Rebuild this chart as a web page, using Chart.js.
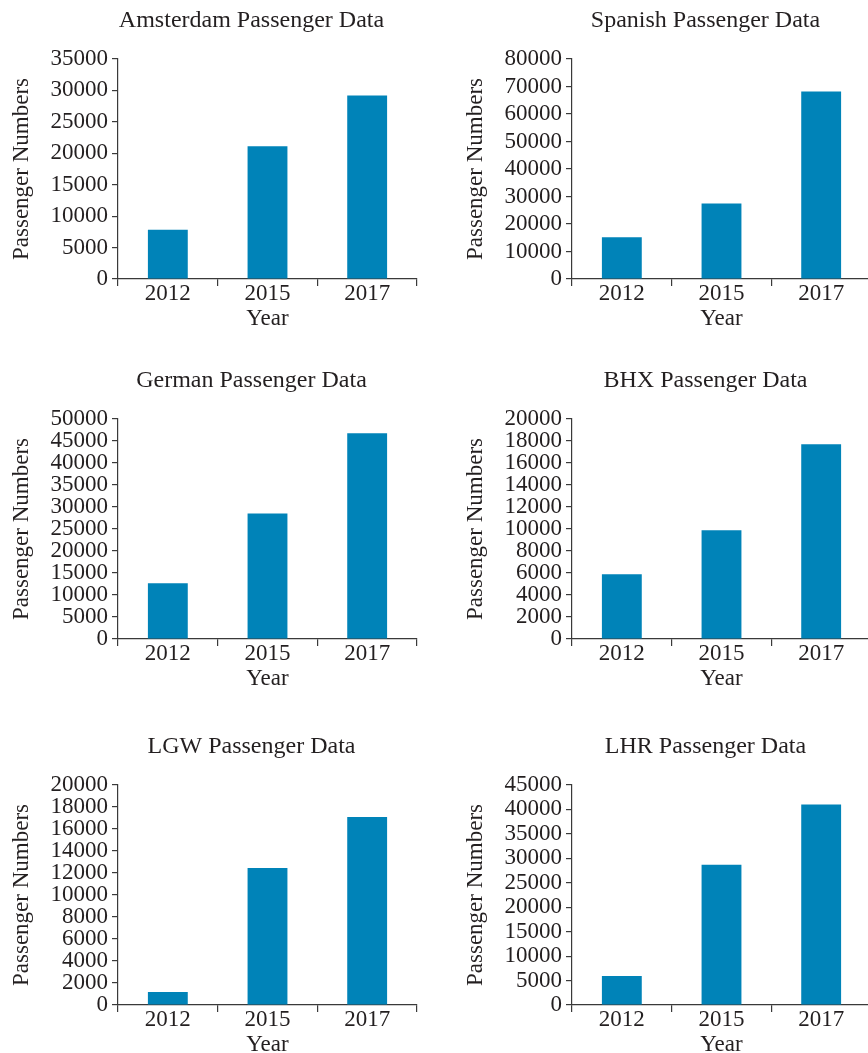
<!DOCTYPE html>
<html>
<head>
<meta charset="utf-8">
<script src="https://cdn.jsdelivr.net/npm/chart.js@4.4.1/dist/chart.umd.min.js"></script>
<style>
  html, body { margin: 0; padding: 0; background: #fff; overflow: hidden; }
  #page { position: relative; width: 868px; height: 1053px; }
  canvas { position: absolute; }
</style>
</head>
<body>
<div id="page">
  <canvas id="c0" width="434" height="330" style="left:0;top:0"></canvas>
  <canvas id="c1" width="434" height="330" style="left:454px;top:0"></canvas>
  <canvas id="c2" width="434" height="330" style="left:0;top:360px"></canvas>
  <canvas id="c3" width="434" height="330" style="left:454px;top:360px"></canvas>
  <canvas id="c4" width="434" height="330" style="left:0;top:726px"></canvas>
  <canvas id="c5" width="434" height="330" style="left:454px;top:726px"></canvas>
</div>
<script>
// data
const years = ['2012', '2015', '2017'];

const amsterdam = [7850, 21100, 29200];
const spanish = [15150, 27500, 68200];
const german = [12650, 28550, 46750];
const bhx = [5880, 9880, 17700];
const lgw = [1180, 12450, 17100];
const lhr = [5950, 28700, 41000];

const titles = ['Amsterdam Passenger Data', 'Spanish Passenger Data', 'German Passenger Data',
                'BHX Passenger Data', 'LGW Passenger Data', 'LHR Passenger Data'];
const yMax = [35000, 80000, 50000, 20000, 20000, 45000];
const yStep = [5000, 10000, 5000, 2000, 2000, 5000];

const ink = '#231f20';
const barBlue = '#0083b8';

Chart.defaults.font.family = '"Liberation Serif", "Times New Roman", serif';
Chart.defaults.font.size = 23;
Chart.defaults.color = ink;

// title drawn over the plot, a bit left of centre like the reference
const panelTitle = {
  id: 'panelTitle',
  afterDraw(chart, args, opts) {
    const {ctx, chartArea} = chart;
    ctx.save();
    ctx.font = '24px "Liberation Serif", serif';
    ctx.fillStyle = ink;
    ctx.textAlign = 'center';
    ctx.textBaseline = 'alphabetic';
    ctx.fillText(opts.text, (chartArea.left + chartArea.right) / 2 - 16, 27);
    ctx.restore();
  }
};

const makeChart = (id, values, title, max, step) => {
  new Chart(document.getElementById(id), {
    type: 'bar',
    data: {
      labels: years,
      datasets: [{
        data: values,
        backgroundColor: barBlue,
        barPercentage: 0.4,
        categoryPercentage: 1
      }]
    },
    plugins: [panelTitle],
    options: {
      responsive: false,
      animation: false,
      layout: { padding: { top: 59, right: 17, bottom: 0, left: 0 } },
      scales: {
        x: {
          afterFit: (scale) => { scale.height = 51 },
          grid: { display: true, drawOnChartArea: false, drawTicks: true, tickLength: 7, color: '#3a3a3a', lineWidth: 1.2 },
          border: { display: true, color: '#3a3a3a', width: 1.2 },
          ticks: { padding: -4, font: { lineHeight: 1 }, maxRotation: 0 },
          title: { display: true, text: 'Year', font: { lineHeight: 1 }, padding: { top: 0, bottom: 0 } }
        },
        y: {
          min: 0,
          max: max,
          afterFit: (scale) => { scale.width = 118 },
          grid: { display: true, drawOnChartArea: false, drawTicks: true, tickLength: 6, color: '#3a3a3a', lineWidth: 1.2 },
          border: { display: true, color: '#3a3a3a', width: 1.2 },
          ticks: { stepSize: step, autoSkip: false, padding: 4, font: { lineHeight: 1 }, callback: (v) => String(v) },
          title: { display: true, text: 'Passenger Numbers', font: { lineHeight: 1 }, padding: { top: 10, bottom: 0 } }
        }
      },
      plugins: {
        legend: { display: false },
        tooltip: { enabled: false },
        panelTitle: { text: title }
      }
    }
  });
};

const series = [amsterdam, spanish, german, bhx, lgw, lhr];
series.forEach((vals, i) => makeChart('c' + i, vals, titles[i], yMax[i], yStep[i]));
</script>
</body>
</html>
